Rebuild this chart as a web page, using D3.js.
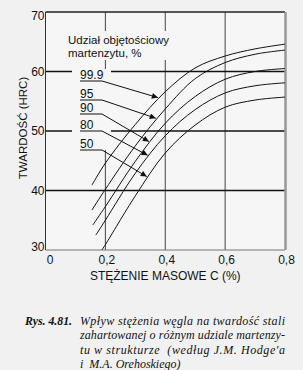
<!DOCTYPE html>
<html>
<head>
<meta charset="utf-8">
<script src="https://cdn.jsdelivr.net/npm/d3@7"></script>
<style>
body { margin: 0; background: #f1f1f1; }
</style>
</head>
<body>
<div id="chart"></div>
<script>
// martensite fraction (%) of each curve
var series = ["99.9", "95", "90", "80", "50"];
// first point of each curve (curves start at different carbon levels)
var startC = [0.155, 0.155, 0.158, 0.168, 0.188];
var startHrc = [40.9, 36.7, 34.2, 32.5, 30.0];
// common carbon levels, % C
var carbon = [0.2, 0.3, 0.4, 0.5, 0.6, 0.7, 0.8];
var hrc999 = [44.6, 51.1, 56.6, 60.6, 62.6, 63.8, 64.6];
var hrc95 = [40.2, 47.5, 53.7, 58.8, 61.5, 62.9, 63.6];
var hrc90 = [37.3, 44.9, 51.3, 55.8, 58.7, 60.0, 60.5];
var hrc80 = [35.0, 42.9, 49.2, 53.6, 56.4, 57.6, 58.1];
var hrc50 = [30.9, 39.1, 46.3, 51.0, 54.0, 55.2, 55.7];
// carbon level where each label arrow touches its curve
var arrowC = [0.382, 0.375, 0.352, 0.348, 0.345];

var xTicks = [0, 0.2, 0.4, 0.6, 0.8];
var yTicks = [30, 40, 50, 60, 70];

var sans = "Liberation Sans, Arial, sans-serif";
var serif = "Liberation Serif, Times New Roman, serif";

var svgWidth = 303, svgHeight = 370;
var svg = d3.select("#chart").append("svg")
    .attr("width", svgWidth)
    .attr("height", svgHeight)
    .style("font-family", sans);

var x = d3.scaleLinear().domain([0, 0.8]).range([45.5, 285]);
var y = d3.scaleLinear().domain([30, 70]).range([250, 12]);

var allHrc = [hrc999, hrc95, hrc90, hrc80, hrc50];
var curves = series.map(function (s, i) {
    var pts = [[startC[i], startHrc[i]]];
    carbon.forEach(function (c, j) { pts.push([c, allHrc[i][j]]); });
    return pts;
});

// plot background
svg.append("rect")
    .attr("x", x(0)).attr("y", y(70))
    .attr("width", x(0.8) - x(0)).attr("height", y(30) - y(70))
    .attr("fill", "#f6f6f6");

// vertical grid
svg.selectAll(".vgrid").data([0.2, 0.4, 0.6]).enter().append("line")
    .attr("x1", d => x(d)).attr("x2", d => x(d))
    .attr("y1", y(70)).attr("y2", y(30))
    .attr("stroke", "#444").attr("stroke-width", 1);

// horizontal grid
svg.selectAll(".hgrid").data([40, 50, 60]).enter().append("line")
    .attr("x1", x(0)).attr("x2", x(0.8))
    .attr("y1", d => y(d)).attr("y2", d => y(d))
    .attr("stroke", "#111").attr("stroke-width", 1.4);

// frame
svg.append("line").attr("x1", x(0)).attr("x2", x(0.8)).attr("y1", y(70)).attr("y2", y(70))
    .attr("stroke", "#222").attr("stroke-width", 1.3);
svg.append("line").attr("x1", x(0)).attr("x2", x(0)).attr("y1", y(70)).attr("y2", y(30))
    .attr("stroke", "#333").attr("stroke-width", 1);
svg.append("line").attr("x1", x(0)).attr("x2", x(0.8)).attr("y1", y(30)).attr("y2", y(30))
    .attr("stroke", "#777").attr("stroke-width", 1);
svg.append("line").attr("x1", x(0.8) + 0.5).attr("x2", x(0.8) + 0.5).attr("y1", y(70)).attr("y2", y(30))
    .attr("stroke", "#999").attr("stroke-width", 2.5);

// gaps behind legend and labels
svg.append("rect").attr("x", 62).attr("y", 31).attr("width", 116).attr("height", 29)
    .attr("fill", "#f6f6f6");
svg.append("rect").attr("x", 72).attr("y", 69).attr("width", 39).attr("height", 81)
    .attr("fill", "#f6f6f6");

// curves
var line = d3.line()
    .x(d => x(d[0]))
    .y(d => y(d[1]))
    .curve(d3.curveCatmullRom.alpha(0.5));

svg.selectAll(".curve").data(curves).enter().append("path")
    .attr("d", line)
    .attr("fill", "none")
    .attr("stroke", "#111")
    .attr("stroke-width", 1);

// legend title
svg.append("text").attr("x", 68).attr("y", 44).attr("font-size", 11.5).attr("fill", "#111")
    .text("Udział objętościowy");
svg.append("text").attr("x", 68).attr("y", 57).attr("font-size", 11.5).attr("fill", "#111")
    .text("martenzytu, %");

// arrow marker
svg.append("defs").append("marker")
    .attr("id", "arrow")
    .attr("viewBox", "0 0 10 10")
    .attr("refX", 10).attr("refY", 5)
    .attr("markerWidth", 8).attr("markerHeight", 6)
    .attr("markerUnits", "userSpaceOnUse")
    .attr("orient", "auto")
    .append("path").attr("d", "M0,0L10,5L0,10z").attr("fill", "#111");

function hrcAt(pts, c) {
    for (var k = 1; k < pts.length; k++) {
        if (c <= pts[k][0]) {
            var t = (c - pts[k - 1][0]) / (pts[k][0] - pts[k - 1][0]);
            return pts[k - 1][1] + t * (pts[k][1] - pts[k - 1][1]);
        }
    }
    return pts[pts.length - 1][1];
}

var labelBase = [79, 98, 112, 129, 148];
series.forEach(function (s, i) {
    var yb = labelBase[i];
    svg.append("text").attr("x", 80).attr("y", yb).attr("font-size", 12).attr("fill", "#111")
        .text(s);
    var tx = x(arrowC[i]) - 2, ty = y(hrcAt(curves[i], arrowC[i]));
    svg.append("polyline")
        .attr("points", [[80, yb + 2], [102, yb + 2], [tx, ty]].map(p => p.join(",")).join(" "))
        .attr("fill", "none")
        .attr("stroke", "#111")
        .attr("stroke-width", 1)
        .attr("marker-end", "url(#arrow)");
});

// axes
var bottomAxis = d3.axisBottom(x).tickValues(xTicks).tickSize(0).tickPadding(5)
    .tickFormat(d => d === 0 ? "0" : d3.format(".1f")(d).replace(".", ","));
var xg = svg.append("g").attr("transform", "translate(1," + y(30) + ")").call(bottomAxis);
xg.select(".domain").remove();
xg.selectAll("text").attr("font-size", 12).attr("fill", "#111").style("font-family", sans);
xg.selectAll(".tick").filter(d => d === 0).select("text").attr("dx", 3);

var leftAxis = d3.axisLeft(y).tickValues(yTicks).tickSize(0).tickPadding(1);
var yg = svg.append("g").attr("transform", "translate(" + x(0) + ",0)").call(leftAxis);
yg.select(".domain").remove();
yg.selectAll("text").attr("font-size", 12).attr("fill", "#111").style("font-family", sans);
yg.selectAll(".tick").filter(d => d === 70).select("text").attr("dy", "0.6em");
yg.selectAll(".tick").filter(d => d === 30).select("text").attr("dy", "0.05em");

// axis titles
svg.append("text")
    .attr("x", (x(0) + x(0.8)) / 2).attr("y", 280)
    .attr("text-anchor", "middle").attr("font-size", 12).attr("fill", "#111")
    .text("STĘŻENIE MASOWE C (%)");

svg.append("text")
    .attr("transform", "translate(27," + 128 + ") rotate(-90)")
    .attr("text-anchor", "middle").attr("font-size", 11.5).attr("fill", "#111")
    .text("TWARDOŚĆ (HRC)");

// caption
var cap = svg.append("g").attr("font-size", 12).attr("fill", "#111");
cap.append("text").attr("x", 25).attr("y", 325)
    .style("font-family", serif).style("font-weight", "bold").style("font-style", "italic")
    .attr("textLength", 47).attr("lengthAdjust", "spacingAndGlyphs")
    .text("Rys. 4.81.");
var capLines = ["Wpływ stężenia węgla na twardość stali",
    "zahartowanej o różnym udziale martenzy-",
    "tu w strukturze  (według J.M. Hodge'a",
    "i  M.A. Orehoskiego)"];
capLines.forEach(function (t, i) {
    var tt = cap.append("text").attr("x", 80).attr("y", 325 + i * 14.3)
        .style("font-family", serif).style("font-style", "italic").style("white-space", "pre")
        .text(t);
    if (i < 3) tt.attr("textLength", 205).attr("lengthAdjust", "spacing");
});
</script>
</body>
</html>
